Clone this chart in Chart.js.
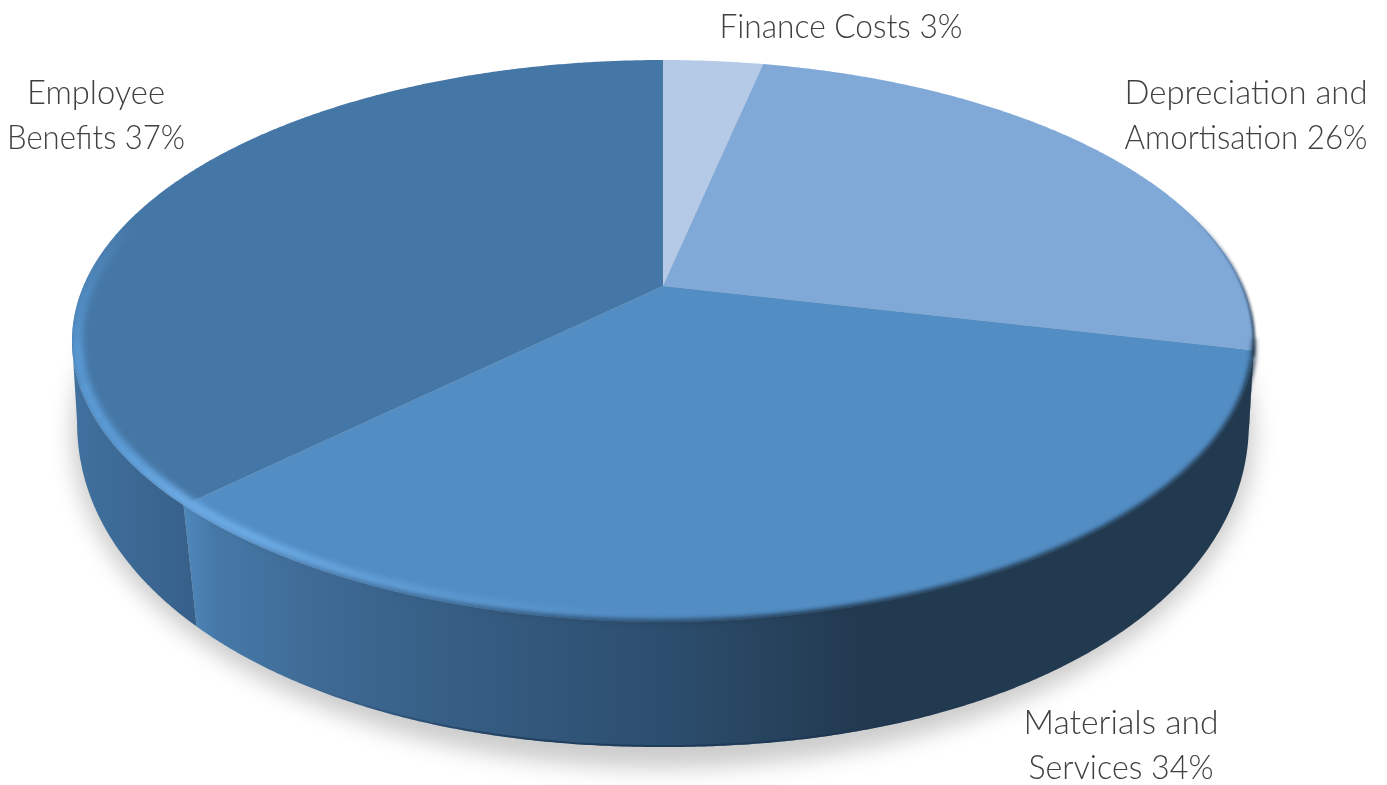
<!DOCTYPE html>
<html><head><meta charset="utf-8">
<style>html,body{margin:0;padding:0;background:#fff;overflow:hidden}#w{width:1387px;height:785px;position:relative}</style>
<script src="https://cdn.jsdelivr.net/npm/chart.js@4"></script>
</head><body><div id="w"><canvas id="c" width="1387" height="785"></canvas></div>
<script>
const categories = ['Finance Costs','Depreciation and Amortisation','Materials and Services','Employee Benefits'];
const values = [3.3, 25.35, 34.0, 37.35];
const sliceColors = ['#B4CAE6','#80A9D8','#528DC4','#4577A6'];
const labelLines = [['Finance Costs 3%'],['Depreciation and','Amortisation 26%'],['Materials and','Services 34%'],['Employee','Benefits 37%']];
const labelPlaces = [[841,38],[1246,104],[1121,734],[96,104]];
const labelWidths = [[243],[243,243],[195,185],[138,178]];

const CX=663, CY=341, RX=591, RY=281, A=(286-341)/281;
const CYB=420, RXB=586, RYB=327, BP=2.1;
function proj(t){const u=Math.cos(t),v=Math.sin(t),d=1+A*v;return [u*Math.sqrt(1-A*A)/d,(v+A)/d];}
function topPt(n,k){return [CX+n[0]*RX*(k?1-0.008:1),CY+n[1]*RY*(k?1-0.016:1)];}
function botPt(n){
  const a=Math.min(1,Math.abs(n[0])),q=a*(1-0.1*(1-a));
  return [CX+Math.sign(n[0])*q*RXB,CYB+Math.pow(1-Math.pow(q,BP),1/BP)*RYB];
}
function tOf(f){return f*2*Math.PI-Math.PI/2;}
function lerpStops(s,f){
  if(f<=s[0][0])return s[0].slice(1);
  for(let i=1;i<s.length;i++){if(f<=s[i][0]){const a=s[i-1],b=s[i],k=(f-a[0])/(b[0]-a[0]);return [0,1,2,3].map(j=>a[j+1]+(b[j+1]-a[j+1])*k);}}
  return s[s.length-1].slice(1);
}
const lightStops=[[.5,108,171,229,0],[.55,108,171,229,.45],[.6,110,174,232,1],[.63,108,170,228,1],[.66,92,155,214,1],[.72,86,147,204,1],[.76,84,144,200,.55],[.79,84,144,200,0]];
const edgeStops=[[.2,40,66,95,0],[.25,40,66,95,.55],[.29,34,58,80,.9]];
const frontStops=[[.28,34,58,80,.4],[.3,34,58,80,1],[.46,34,58,80,1],[.52,45,79,112,.85],[.58,62,105,148,.55],[.63,62,105,148,0]];
function strokeLayer(stops,width,blur,ctx,w,h,inset,clipFn){
  const o=document.createElement('canvas');o.width=w;o.height=h;const g=o.getContext('2d');
  g.lineWidth=width;g.lineCap='butt';g.globalCompositeOperation='lighter';
  const f0=stops[0][0],f1=stops[stops.length-1][0],N=600;
  for(let i=0;i<N;i++){const a=f0+(f1-f0)*i/N,b=f0+(f1-f0)*(i+1)/N;
    const c=lerpStops(stops,(a+b)/2);
    const p=topPt(proj(tOf(a)),inset),q=topPt(proj(tOf(b)),inset);
    g.strokeStyle=`rgba(${c[0]|0},${c[1]|0},${c[2]|0},${c[3]})`;
    g.beginPath();g.moveTo(p[0],p[1]);g.lineTo(q[0],q[1]);g.stroke();}
  ctx.save();if(clipFn)clipFn();ctx.filter=`blur(${blur}px)`;ctx.drawImage(o,0,0);ctx.restore();
}
function wallGrad(ctx,i){
  const stops=i===3?[[72,'#41719F'],[190,'#37618A']]:[[184,'#4F88BC'],[215,'#4679A8'],[320,'#3E6A94'],[500,'#345A7F'],[663,'#2C4E6E'],[860,'#223A50'],[1254,'#223A50']];
  const a=stops[0][0],b=stops[stops.length-1][0];
  const g=ctx.createLinearGradient(a,0,b,0);
  stops.forEach(s=>g.addColorStop((s[0]-a)/(b-a),s[1]));return g;
}
const depthPie={id:'depthPie',beforeDatasetsDraw(chart){
  const ctx=chart.ctx,arcs=chart.getDatasetMeta(0).data,cols=chart.data.datasets[0].backgroundColor;
  ctx.save();ctx.filter='blur(11px)';ctx.fillStyle='rgba(0,0,0,0.2)';
  ctx.beginPath();ctx.ellipse(CX,CYB+15,RXB+5,RYB+6,0,0,Math.PI*2);ctx.fill();ctx.restore();
  const bottomLine=ctx.createLinearGradient(300,0,1000,0);
  bottomLine.addColorStop(0,'rgba(24,50,80,0)');bottomLine.addColorStop(.3,'rgba(24,50,80,.65)');bottomLine.addColorStop(.7,'rgba(24,50,80,.65)');bottomLine.addColorStop(1,'rgba(24,50,80,0)');
  arcs.forEach((arc,i)=>{
    const pts=[];const n=Math.ceil((arc.endAngle-arc.startAngle)*180/Math.PI*3);
    for(let k=0;k<=n;k++){const t=arc.startAngle+(arc.endAngle-arc.startAngle)*k/n,m=proj(t);if(m[1]>=-0.002)pts.push(m);}
    if(pts.length<2)return;
    ctx.beginPath();pts.forEach((m,k)=>{const p=topPt(m);k?ctx.lineTo(p[0],p[1]):ctx.moveTo(p[0],p[1]);});
    for(let k=pts.length-1;k>=0;k--){const p=botPt(pts[k]);ctx.lineTo(p[0],p[1]);}
    ctx.closePath();ctx.fillStyle=wallGrad(ctx,i);ctx.fill();
    ctx.save();ctx.clip();ctx.beginPath();pts.forEach((m,k)=>{const p=botPt(m);k?ctx.lineTo(p[0],p[1]):ctx.moveTo(p[0],p[1]);});
    ctx.strokeStyle=bottomLine;ctx.lineWidth=4;ctx.stroke();ctx.restore();
  });
  const paths=arcs.map((arc)=>{
    const path=new Path2D();path.moveTo(CX,CY+A*RY);const n=Math.ceil((arc.endAngle-arc.startAngle)*180/Math.PI*3);
    for(let k=0;k<=n;k++){const p=topPt(proj(arc.startAngle+(arc.endAngle-arc.startAngle)*k/n));path.lineTo(p[0],p[1]);}
    path.closePath();return path;
  });
  paths.forEach((p,i)=>{ctx.fillStyle=cols[i];ctx.fill(p);});
  const disc=new Path2D();disc.ellipse(CX,CY,RX,RY,0,0,Math.PI*2);
  strokeLayer(lightStops,12,3,ctx,chart.width,chart.height,true,()=>ctx.clip(disc));
  strokeLayer(edgeStops,3,1,ctx,chart.width,chart.height,false,null);
  strokeLayer(frontStops,6,2,ctx,chart.width,chart.height,false,null);
  ctx.save();ctx.fillStyle='#404040';ctx.font='300 34px Lato';ctx.textAlign='center';ctx.textBaseline='alphabetic';
  labelLines.forEach((ls,i)=>ls.forEach((s,j)=>{
    const sx=labelWidths[i][j]/ctx.measureText(s).width;
    ctx.save();ctx.translate(labelPlaces[i][0],labelPlaces[i][1]+j*45);ctx.scale(sx,1);ctx.fillText(s,0,0);ctx.restore();
  }));
  ctx.restore();
  return false;
}};
new Chart(document.getElementById('c'),{type:'pie',
  data:{labels:categories,datasets:[{data:values,backgroundColor:sliceColors,borderWidth:0}]},
  options:{responsive:false,animation:false,rotation:0,layout:{padding:0},
    plugins:{legend:{display:false},tooltip:{enabled:false}}},
  plugins:[depthPie]});
</script></body></html>
